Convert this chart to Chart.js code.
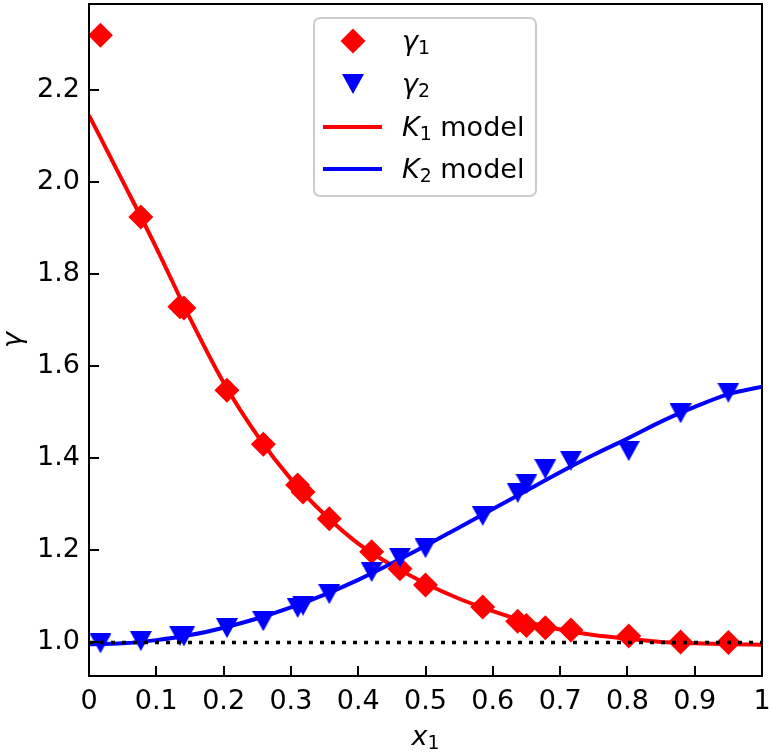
<!DOCTYPE html>
<html>
<head>
<meta charset="utf-8">
<script src="https://cdn.jsdelivr.net/npm/chart.js@4/dist/chart.umd.min.js"></script>
<style>
html, body { margin: 0; padding: 0; background: #fff; }
canvas { display: block; }
</style>
</head>
<body>
<canvas id="gammaChart" width="771" height="752"></canvas>
<script>
// measured compositions and activity coefficients
const x1Data = [0.017, 0.077, 0.135, 0.141, 0.205, 0.259, 0.310, 0.318, 0.357, 0.420,
                0.462, 0.500, 0.585, 0.637, 0.650, 0.678, 0.716, 0.802, 0.879, 0.950];
const gamma1 = [2.320, 1.925, 1.730, 1.727, 1.548, 1.431, 1.342, 1.327, 1.269, 1.197,
                1.160, 1.125, 1.077, 1.046, 1.037, 1.032, 1.027, 1.014, 1.001, 1.000];
const gamma2 = [0.998, 1.003, 1.015, 1.013, 1.031, 1.046, 1.075, 1.080, 1.105, 1.153,
                1.184, 1.205, 1.275, 1.325, 1.345, 1.377, 1.395, 1.416, 1.498, 1.543];

// model curves
const xModel  = [0, 0.05, 0.10, 0.15, 0.20, 0.25, 0.30, 0.35, 0.40, 0.45, 0.50,
                 0.55, 0.60, 0.65, 0.70, 0.75, 0.80, 0.85, 0.90, 0.95, 1.00];
const k1Model = [2.146, 2.003, 1.858, 1.705, 1.565, 1.450, 1.355, 1.278, 1.215, 1.168, 1.128,
                 1.095, 1.068, 1.045, 1.028, 1.016, 1.008, 1.001, 0.998, 0.996, 0.995];
const k2Model = [0.996, 0.998, 1.005, 1.016, 1.032, 1.052, 1.076, 1.104, 1.136, 1.172, 1.210,
                 1.250, 1.290, 1.330, 1.370, 1.408, 1.443, 1.480, 1.512, 1.540, 1.556];

const refX = [0, 1];
const refY = [1, 1];

const xTicks = [0, 0.1, 0.2, 0.3, 0.4, 0.5, 0.6, 0.7, 0.8, 0.9, 1];
const xTickLabels = ['0', '0.1', '0.2', '0.3', '0.4', '0.5', '0.6', '0.7', '0.8', '0.9', '1'];
const yTicks = [1.0, 1.2, 1.4, 1.6, 1.8, 2.0, 2.2];
const yTickLabels = ['1.0', '1.2', '1.4', '1.6', '1.8', '2.0', '2.2'];

const FONT = "'DejaVu Sans', sans-serif";
const FS = 27;


function pairs(xs, ys) {
    return xs.map((x, i) => ({ x: x, y: ys[i] }));
}

// downward triangle centred on its box, like matplotlib 'v'
function triangleDown(w, h, color) {
    let c = document.createElement('canvas');
    c.width = w;
    c.height = h;
    let g = c.getContext('2d');
    g.fillStyle = color;
    g.beginPath();
    g.moveTo(0, 0);
    g.lineTo(w, 0);
    g.lineTo(w / 2, h);
    g.closePath();
    g.fill();
    return c;
}

const triImg = triangleDown(22, 20, '#0000ff');

// "γ_1" -> italic γ with small upright 1, rest upright
function drawMath(ctx, label, x, y, size, align) {
    let m = label.match(/^(.)_(.)(.*)$/);
    let parts = m
        ? [[m[1], 'italic', size, 0], [m[2], 'normal', size * 0.7, size * 0.16], [m[3], 'normal', size, 0]]
        : [[label, 'italic', size, 0]];
    let total = 0;
    parts.forEach(p => {
        ctx.font = p[1] + ' ' + p[2] + 'px ' + FONT;
        p.push(ctx.measureText(p[0]).width);
        total += p[4];
    });
    let cx = align === 'center' ? x - total / 2 : x;
    ctx.textAlign = 'left';
    ctx.textBaseline = 'alphabetic';
    parts.forEach(p => {
        ctx.font = p[1] + ' ' + p[2] + 'px ' + FONT;
        ctx.fillText(p[0], cx, y + p[3]);
        cx += p[4];
    });
}


const framePlugin = {
    id: 'frame',
    afterDraw(chart) {
        const ctx = chart.ctx;
        const a = chart.chartArea;
        const sx = chart.scales.x;
        const sy = chart.scales.y;

        ctx.save();
        ctx.strokeStyle = '#000';
        ctx.lineWidth = 2;

        // inward ticks
        ctx.beginPath();
        sx.ticks.forEach(t => {
            let px = Math.round(sx.getPixelForValue(t.value));
            ctx.moveTo(px, a.bottom);
            ctx.lineTo(px, a.bottom - 10);
        });
        sy.ticks.forEach(t => {
            let py = Math.round(sy.getPixelForValue(t.value));
            ctx.moveTo(a.left, py);
            ctx.lineTo(a.left + 10, py);
        });
        ctx.stroke();

        ctx.strokeRect(a.left, a.top, a.right - a.left, a.bottom - a.top);

        // axis titles
        ctx.fillStyle = '#000';
        drawMath(ctx, 'x_1', (a.left + a.right) / 2, 745, FS, 'center');
        ctx.save();
        ctx.translate(21, (a.top + a.bottom) / 2);
        ctx.rotate(-Math.PI / 2);
        drawMath(ctx, 'γ', 0, 0, FS, 'center');
        ctx.restore();

        // legend
        let lx = 314, ly = 18, lw = 222, lh = 178;
        ctx.beginPath();
        ctx.roundRect(lx, ly, lw, lh, 6);
        ctx.fillStyle = 'rgba(255,255,255,0.8)';
        ctx.fill();
        ctx.strokeStyle = '#cccccc';
        ctx.lineWidth = 2;
        ctx.stroke();

        let rows = [41, 84, 127, 169];
        let entries = chart.data.datasets.filter(d => d.label);
        entries.sort((p, q) => p.legendPos - q.legendPos);
        entries.forEach((d, i) => {
            let ry = rows[i];
            if (d.showLine) {
                ctx.strokeStyle = d.borderColor;
                ctx.lineWidth = 4;
                ctx.beginPath();
                ctx.moveTo(323, ry);
                ctx.lineTo(382, ry);
                ctx.stroke();
            } else if (d.pointStyle === triImg) {
                ctx.drawImage(triImg, 353 - 11, ry - 10);
            } else {
                ctx.fillStyle = d.pointBackgroundColor;
                Chart.helpers.drawPoint(ctx, {
                    pointStyle: d.pointStyle, radius: d.pointRadius, rotation: 0, borderWidth: 0
                }, 353, ry);
            }
            ctx.fillStyle = '#000';
            drawMath(ctx, d.label, 402, ry + 9, FS, 'left');
        });

        ctx.restore();
    }
};


new Chart(document.getElementById('gammaChart'), {
    type: 'scatter',
    data: {
        datasets: [
            {
                data: pairs(refX, refY),
                showLine: true,
                borderColor: '#000',
                borderWidth: 3.5,
                borderDash: [4, 7],
                pointRadius: 0,
                order: 0
            },
            {
                label: 'γ_2',
                legendPos: 1,
                data: pairs(x1Data, gamma2),
                pointStyle: triImg,
                pointRadius: 11,
                pointBackgroundColor: '#0000ff',
                order: 1
            },
            {
                label: 'γ_1',
                legendPos: 0,
                data: pairs(x1Data, gamma1),
                pointStyle: 'rectRot',
                pointRadius: 12.5,
                pointBorderWidth: 0,
                pointBackgroundColor: '#ff0000',
                order: 2
            },
            {
                label: 'K_2 model',
                legendPos: 3,
                data: pairs(xModel, k2Model),
                showLine: true,
                borderColor: '#0000ff',
                borderWidth: 4,
                pointRadius: 0,
                cubicInterpolationMode: 'monotone',
                order: 3
            },
            {
                label: 'K_1 model',
                legendPos: 2,
                data: pairs(xModel, k1Model),
                showLine: true,
                borderColor: '#ff0000',
                borderWidth: 4,
                pointRadius: 0,
                cubicInterpolationMode: 'monotone',
                order: 4
            }
        ]
    },
    options: {
        responsive: false,
        animation: false,
        events: [],
        layout: { autoPadding: false, padding: { left: 0, right: 9, top: 4, bottom: 0 } },
        plugins: {
            legend: { display: false },
            tooltip: { enabled: false }
        },
        scales: {
            x: {
                type: 'linear',
                min: 0,
                max: 1,
                afterBuildTicks: s => { s.ticks = xTicks.map(v => ({ value: v })); },
                afterFit: s => {
                    s.height = 76;
                    s.paddingLeft = 0;
                    s.paddingRight = 0;
                },
                grid: { display: false, drawTicks: false },
                border: { display: false },
                ticks: {
                    padding: 10,
                    color: '#000',
                    font: { family: FONT, size: FS },
                    maxRotation: 0,
                    autoSkip: false,
                    callback: (v, i) => xTickLabels[i]
                }
            },
            y: {
                type: 'linear',
                min: 0.927,
                max: 2.388,
                afterBuildTicks: s => { s.ticks = yTicks.map(v => ({ value: v })); },
                afterFit: s => {
                    s.width = 89;
                    s.paddingTop = 0;
                    s.paddingBottom = 0;
                },
                grid: { display: false, drawTicks: false },
                border: { display: false },
                ticks: {
                    padding: 9,
                    color: '#000',
                    font: { family: FONT, size: FS },
                    autoSkip: false,
                    callback: (v, i) => yTickLabels[i]
                }
            }
        }
    },
    plugins: [framePlugin]
});
</script>
</body>
</html>
